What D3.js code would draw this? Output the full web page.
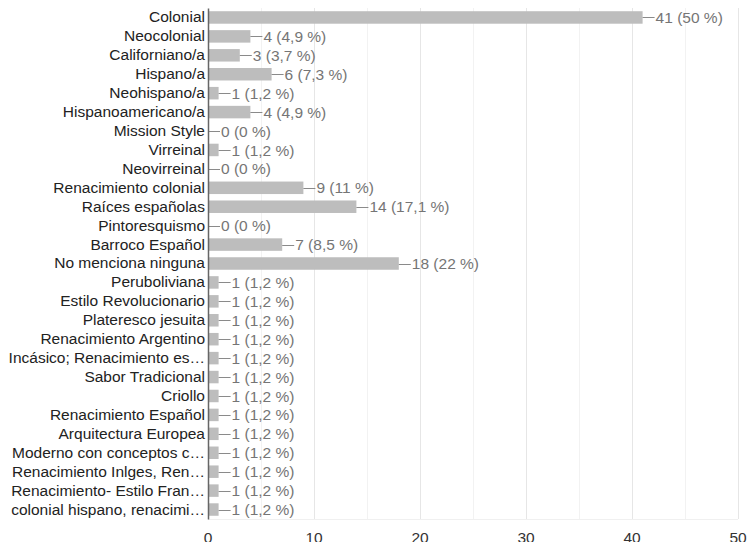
<!DOCTYPE html>
<html>
<head>
<meta charset="utf-8">
<script src="https://cdn.jsdelivr.net/npm/d3@7"></script>
<style>
  body { margin: 0; background: #fff; }
  svg text { font-family: "Liberation Sans", Arial, Helvetica, sans-serif; }
</style>
</head>
<body>
<div id="chart"></div>
<script>
const categories = [
  "Colonial", "Neocolonial", "Californiano/a", "Hispano/a", "Neohispano/a",
  "Hispanoamericano/a", "Mission Style", "Virreinal", "Neovirreinal",
  "Renacimiento colonial", "Raíces españolas", "Pintoresquismo",
  "Barroco Español", "No menciona ninguna", "Peruboliviana",
  "Estilo Revolucionario", "Plateresco jesuita", "Renacimiento Argentino",
  "Incásico; Renacimiento es…", "Sabor Tradicional", "Criollo",
  "Renacimiento Español", "Arquitectura Europea", "Moderno con conceptos c…",
  "Renacimiento Inlges, Ren…", "Renacimiento- Estilo Fran…",
  "colonial hispano, renacimi…"
];
const counts = [41, 4, 3, 6, 1, 4, 0, 1, 0, 9, 14, 0, 7, 18, 1, 1, 1, 1, 1, 1, 1, 1, 1, 1, 1, 1, 1];
const percents = ["50", "4,9", "3,7", "7,3", "1,2", "4,9", "0", "1,2", "0", "11", "17,1", "0",
  "8,5", "22", "1,2", "1,2", "1,2", "1,2", "1,2", "1,2", "1,2", "1,2", "1,2", "1,2", "1,2", "1,2", "1,2"];
const tickValues = [0, 10, 20, 30, 40, 50];
const minorTicks = [5, 15, 25, 35, 45];

const width = 747;
const height = 542;
const plot = { left: 208, right: 738, top: 8, bottom: 519 };
const fontSize = 15.5;

const svg = d3.select("#chart")
  .append("svg")
  .attr("width", width)
  .attr("height", height);

const x = d3.scaleLinear().domain([0, 50]).range([plot.left, plot.right]);
const y = d3.scaleBand().domain(categories).range([plot.top, plot.bottom])
  .paddingInner(0.34).paddingOuter(0.17);

// gridlines
svg.append("g")
  .selectAll("line")
  .data(minorTicks)
  .join("line")
  .attr("x1", d => x(d) + 0.5).attr("x2", d => x(d) + 0.5)
  .attr("y1", plot.top).attr("y2", plot.bottom)
  .attr("stroke", "#f2f2f2");

svg.append("g")
  .selectAll("line")
  .data(tickValues.slice(1))
  .join("line")
  .attr("x1", d => x(d) + 0.5).attr("x2", d => x(d) + 0.5)
  .attr("y1", plot.top).attr("y2", plot.bottom)
  .attr("stroke", "#e6e6e6");

svg.append("line")
  .attr("x1", plot.left).attr("x2", plot.right)
  .attr("y1", plot.bottom + 0.5).attr("y2", plot.bottom + 0.5)
  .attr("stroke", "#f0f0f0");

// bars
const rows = categories.map((c, i) => ({ cat: c, n: counts[i], pct: percents[i] }));

svg.append("g")
  .selectAll("rect")
  .data(rows)
  .join("rect")
  .attr("x", x(0))
  .attr("y", d => y(d.cat))
  .attr("width", d => x(d.n) - x(0))
  .attr("height", y.bandwidth())
  .attr("fill", "#bdbdbd");

// leader lines + value labels
const lab = svg.append("g");
lab.selectAll("line")
  .data(rows)
  .join("line")
  .attr("x1", d => x(d.n)).attr("x2", d => x(d.n) + 12)
  .attr("y1", d => Math.round(y(d.cat) + y.bandwidth() / 2) + 0.5)
  .attr("y2", d => Math.round(y(d.cat) + y.bandwidth() / 2) + 0.5)
  .attr("stroke", "#8a8a8a");

lab.selectAll("text")
  .data(rows)
  .join("text")
  .attr("x", d => x(d.n) + 13)
  .attr("y", d => y(d.cat) + y.bandwidth() / 2)
  .attr("dy", "0.36em")
  .attr("font-size", fontSize)
  .attr("fill", "#757575")
  .text(d => `${d.n} (${d.pct} %)`);

// category axis
const yAxis = svg.append("g")
  .attr("transform", `translate(${plot.left},0)`)
  .call(d3.axisLeft(y).tickSize(0).tickPadding(3));
yAxis.select(".domain").attr("stroke", "#666").attr("stroke-width", 1.5);
yAxis.selectAll("text").attr("font-size", fontSize).attr("fill", "#222")
  .style("font-family", '"Liberation Sans", Arial, sans-serif');

// value axis labels
svg.append("g")
  .selectAll("text")
  .data(tickValues)
  .join("text")
  .attr("x", d => x(d))
  .attr("y", 543)
  .attr("text-anchor", "middle")
  .attr("font-size", fontSize)
  .attr("fill", "#333")
  .text(d => d);
</script>
</body>
</html>
